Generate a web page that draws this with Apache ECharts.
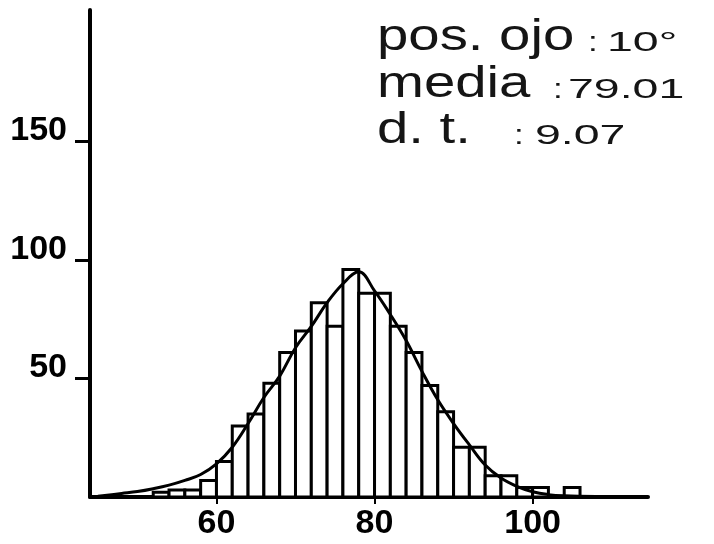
<!DOCTYPE html>
<html>
<head>
<meta charset="utf-8">
<script src="https://cdn.jsdelivr.net/npm/echarts@6/dist/echarts.min.js"></script>
<style>
html,body{margin:0;padding:0;background:#fff;}
#chart{width:714px;height:544px;}
</style>
</head>
<body>
<div id="chart"></div>
<script>
// Histogram bins (left edge of each 2-unit bin) and counts
const binStarts = [52, 54, 56, 58, 60, 62, 64, 66, 68, 70, 72, 74, 76, 78, 80, 82, 84, 86, 88, 90, 92, 94, 96, 98, 100, 104];
const counts    = [2, 3, 3, 7, 15, 30, 35, 48, 61, 70, 82, 72, 96, 86, 86, 72, 61, 47, 36, 21, 21, 9, 9, 4, 4, 4];
const binWidth = 2;

// Fitted curve, points
const curveX = [45, 48, 50, 52, 54, 56, 58, 60, 62, 64, 66, 68, 70, 72, 74, 76, 78, 80, 82, 84, 86, 88, 90, 92, 94, 96, 98, 100, 102, 104, 108];
const curveY = [0.3, 1.5, 2.3, 3.5, 5, 7, 9.5, 14, 21, 31, 42, 51, 63, 72, 82, 90, 95, 87, 77, 66, 53, 41, 31, 22, 13.5, 8, 4.5, 2.2, 1, 0.5, 0.2];

const xTicks = [60, 80, 100];
const yTicks = [50, 100, 150];

const annotLabels = ['pos. ojo', 'media', 'd. t.'];
const annotValues = ['10°', '79.01', '9.07'];

const barData = binStarts.map((s, i) => [s, s + binWidth, counts[i]]);
const curveData = curveX.map((x, i) => [x, curveY[i]]);

const chart = echarts.init(document.getElementById('chart'));

const labelFont = '"Liberation Sans", Arial, sans-serif';
const annotFont = '"Liberation Sans", "DejaVu Sans", sans-serif';

// annotation layout
const baseY = [53, 100, 146];
const colonX = [588, 553, 514];
const valueX = [607, 568, 535];
const bigFs = 44, smallFs = 27;
const graphics = [];
annotLabels.forEach((t, i) => {
  graphics.push({
    type: 'text', x: 377, y: baseY[i] - 0.3465 * bigFs, scaleX: 1.28,
    style: { text: t, font: bigFs + 'px ' + annotFont, fill: '#151515', verticalAlign: 'middle', align: 'left' }
  });
  graphics.push({
    type: 'text', x: colonX[i], y: baseY[i] - 0.3465 * smallFs, scaleX: 1.3,
    style: { text: ':', font: smallFs + 'px ' + annotFont, fill: '#151515', verticalAlign: 'middle', align: 'left' }
  });
  graphics.push({
    type: 'text', x: valueX[i], y: baseY[i] - 0.3465 * smallFs, scaleX: 1.72,
    style: { text: annotValues[i], font: smallFs + 'px ' + annotFont, fill: '#151515', verticalAlign: 'middle', align: 'left' }
  });
});

chart.setOption({
  animation: false,
  backgroundColor: '#fff',
  grid: { left: 90, right: 66, top: 10, bottom: 47 },
  xAxis: {
    type: 'value', min: 44, max: 114.6,
    axisLine: { lineStyle: { color: '#000', width: 4 } },
    axisTick: { show: true, length: 7, lineStyle: { color: '#000', width: 2 }, customValues: xTicks },
    axisLabel: {
      customValues: xTicks, margin: 11, color: '#000',
      fontFamily: labelFont, fontWeight: 'bold', fontSize: 34, lineHeight: 32
    },
    splitLine: { show: false }
  },
  yAxis: {
    type: 'value', min: 0, max: 205.5,
    axisLine: { show: true, lineStyle: { color: '#000', width: 4 } },
    axisTick: { show: true, length: 15, lineStyle: { color: '#000', width: 3 }, customValues: yTicks },
    axisLabel: {
      customValues: yTicks, margin: 23, color: '#000',
      fontFamily: labelFont, fontWeight: 'bold', fontSize: 34,
      verticalAlign: 'bottom', lineHeight: 21
    },
    splitLine: { show: false }
  },
  series: [
    {
      type: 'custom',
      data: barData,
      encode: { x: [0, 1], y: 2 },
      renderItem: function (params, api) {
        const p0 = api.coord([api.value(0), 0]);
        const p1 = api.coord([api.value(1), api.value(2)]);
        return {
          type: 'rect',
          shape: { x: p0[0], y: p1[1], width: p1[0] - p0[0], height: p0[1] - p1[1] },
          style: { fill: '#fff', stroke: '#000', lineWidth: 3 }
        };
      },
      z: 2
    },
    {
      type: 'line',
      data: curveData,
      smooth: 0.4,
      symbol: 'none',
      lineStyle: { color: '#000', width: 3 },
      z: 3
    }
  ],
  graphic: graphics
});
</script>
</body>
</html>
